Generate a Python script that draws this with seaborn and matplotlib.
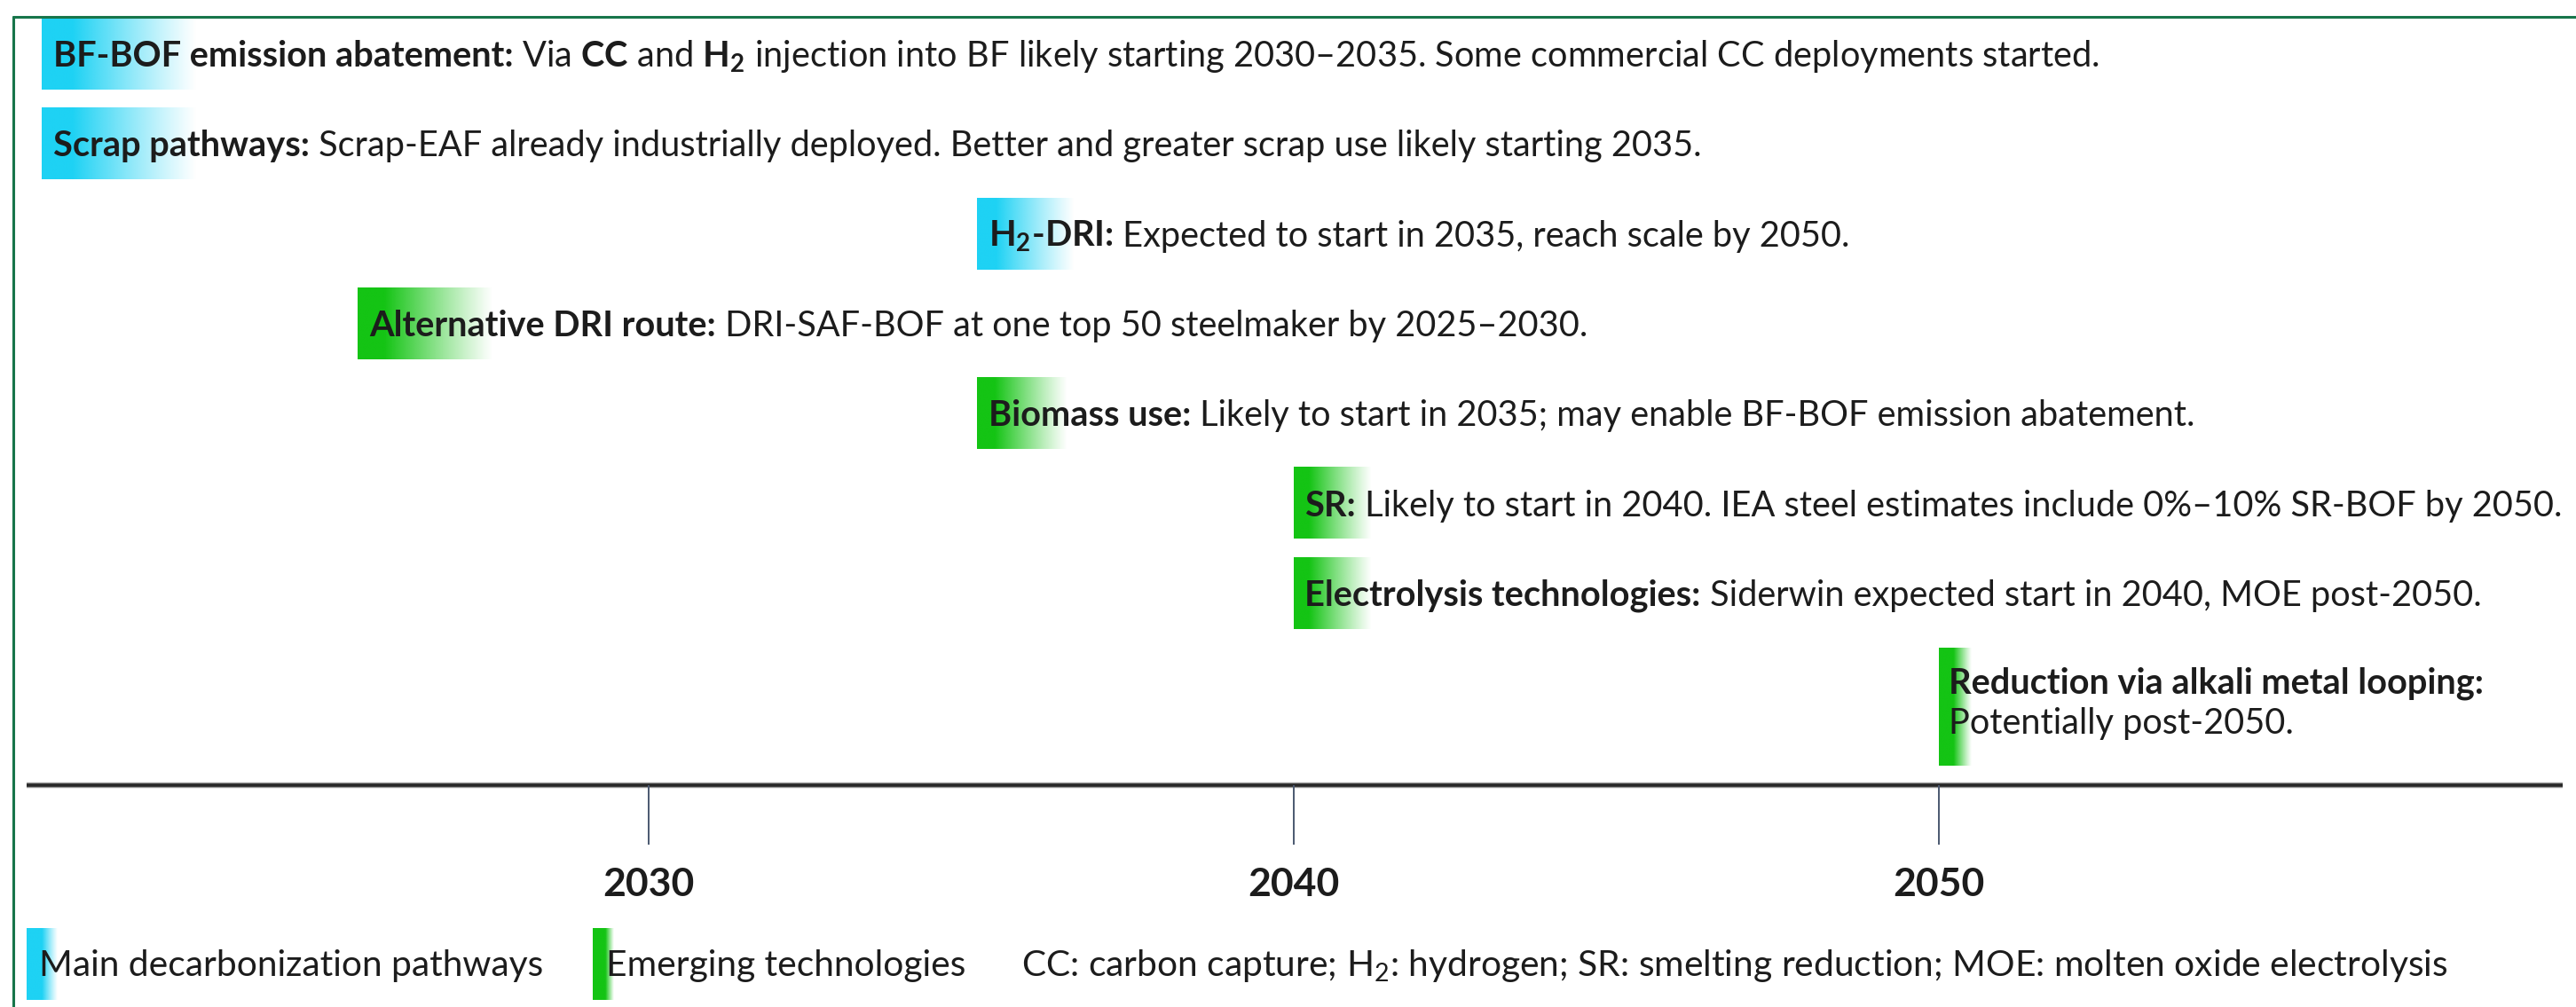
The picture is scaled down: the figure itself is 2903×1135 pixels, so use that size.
import matplotlib
matplotlib.use('Agg')

import numpy as np
import seaborn as sns
import matplotlib.pyplot as plt
from matplotlib.colors import to_rgb
from matplotlib.lines import Line2D

# timeline rows, top to bottom
labels = [
    'BF-BOF emission abatement:',
    'Scrap pathways:',
    r'H$_\mathbf{2}$-DRI:',
    'Alternative DRI route:',
    'Biomass use:',
    'SR:',
    'Electrolysis technologies:',
    'Reduction via alkali metal looping:',
]
details = [
    r' Via $\mathbf{CC}$ and $\mathbf{H_2}$ injection into BF likely starting 2030–2035. Some commercial CC deployments started.',
    ' Scrap-EAF already industrially deployed. Better and greater scrap use likely starting 2035.',
    ' Expected to start in 2035, reach scale by 2050.',
    ' DRI-SAF-BOF at one top 50 steelmaker by 2025–2030.',
    ' Likely to start in 2035; may enable BF-BOF emission abatement.',
    ' Likely to start in 2040. IEA steel estimates include 0%–10% SR-BOF by 2050.',
    ' Siderwin expected start in 2040, MOE post-2050.',
    'Potentially post-2050.',
]
start_years = [2020.6, 2020.6, 2035.1, 2025.5, 2035.1, 2040.0, 2040.0, 2050.0]
groups = ['main', 'main', 'main', 'emerging', 'emerging', 'emerging', 'emerging', 'emerging']
tick_years = [2030, 2040, 2050]
legend_labels = ['Main decarbonization pathways', 'Emerging technologies']
footnote = r'CC: carbon capture; H$_2$: hydrogen; SR: smelting reduction; MOE: molten oxide electrolysis'

# styling
colors = {'main': '#1ED2F4', 'emerging': '#14C414'}
fade_widths = [2.4, 2.4, 1.5, 2.1, 1.4, 1.2, 1.2, 0.5]
two_line = [False] * 7 + [True]
TXT = '#1c1c1c'
FS = 28.6
FS_LEG = 29.3

sns.set_theme(style='white')
plt.rcParams['font.family'] = ['Lato', 'DejaVu Sans']
plt.rcParams['mathtext.fontset'] = 'custom'
plt.rcParams['mathtext.rm'] = 'Lato'
plt.rcParams['mathtext.bf'] = 'Lato:bold'
plt.rcParams['mathtext.it'] = 'Lato:italic'


def fade_box(ax, x0, width, y0, y1, color, hold=0.2):
    t = np.linspace(0, 1, 256)
    rgba = np.zeros((1, 256, 4))
    rgba[..., :3] = to_rgb(color)
    rgba[..., 3] = np.clip((1 - t) / (1 - hold), 0, 1) ** 1.1
    ax.imshow(rgba, extent=(x0, x0 + width, y1, y0), aspect='auto',
              interpolation='bilinear', zorder=1)


def chain_text(ax, x, y, pieces, dx=9, size=FS):
    prev = None
    for s, w in pieces:
        if prev is None:
            prev = ax.annotate(s, xy=(x, y), xytext=(dx, 0), textcoords='offset points',
                               ha='left', va='baseline', fontsize=size, fontweight=w,
                               color=TXT, zorder=3)
        else:
            prev = ax.annotate(s, xy=(1, y), xycoords=(prev, 'data'),
                               ha='left', va='baseline', fontsize=size, fontweight=w,
                               color=TXT, zorder=3)
    return prev


fig = plt.figure(figsize=(29.03, 11.35), dpi=100)
ax = fig.add_axes([0, 0, 1, 1])

for r, (lab, det, x0, g) in enumerate(zip(labels, details, start_years, groups)):
    if two_line[r]:
        fade_box(ax, x0, fade_widths[r], r, r + 1.31, colors[g], hold=0.45)
        chain_text(ax, x0, r + 0.51, [(lab, 'bold')], dx=8)
        chain_text(ax, x0, r + 0.96, [(det, 'normal')], dx=8)
    else:
        fade_box(ax, x0, fade_widths[r], r, r + 0.79, colors[g])
        chain_text(ax, x0, r + 0.535, [(lab, 'bold'), (det, 'normal')])

# time axis
axis_y = 8.53
ax.hlines(axis_y, 2020.36, 2059.68, color='#9a9a9a', lw=4.6, zorder=2)
ax.hlines(axis_y, 2020.36, 2059.68, color='#262626', lw=2.6, zorder=2)
ax.vlines(tick_years, axis_y, 9.19, color='#4a5870', lw=1.4, zorder=2)
for yr in tick_years:
    ax.text(yr, 9.64, str(yr), ha='center', va='center', fontsize=32,
            fontweight='bold', color=TXT)

# legend row
fade_box(ax, 2020.36, 0.48, 10.13, 10.92, colors['main'], hold=0.5)
chain_text(ax, 2020.36, 10.65, [(legend_labels[0], 'normal')], dx=10, size=FS_LEG)
fade_box(ax, 2029.14, 0.33, 10.13, 10.92, colors['emerging'], hold=0.6)
chain_text(ax, 2029.14, 10.65, [(legend_labels[1], 'normal')], dx=11, size=FS_LEG)
chain_text(ax, 2035.78, 10.65, [(footnote, 'normal')], dx=0, size=FS_LEG)

ax.set_xlim(2019.95, 2059.88)
ax.set_ylim(11.0, -0.207)
ax.axis('off')

# green frame (cut off at right and bottom)
fx, fy = 15 / 2903, 1 - 19 / 1135
fig.add_artist(Line2D([fx, fx], [-0.01, fy], transform=fig.transFigure, color='#17754A', lw=2.2))
fig.add_artist(Line2D([fx, 1.01], [fy, fy], transform=fig.transFigure, color='#17754A', lw=2.2))

fig.savefig('out.png', dpi=100)
